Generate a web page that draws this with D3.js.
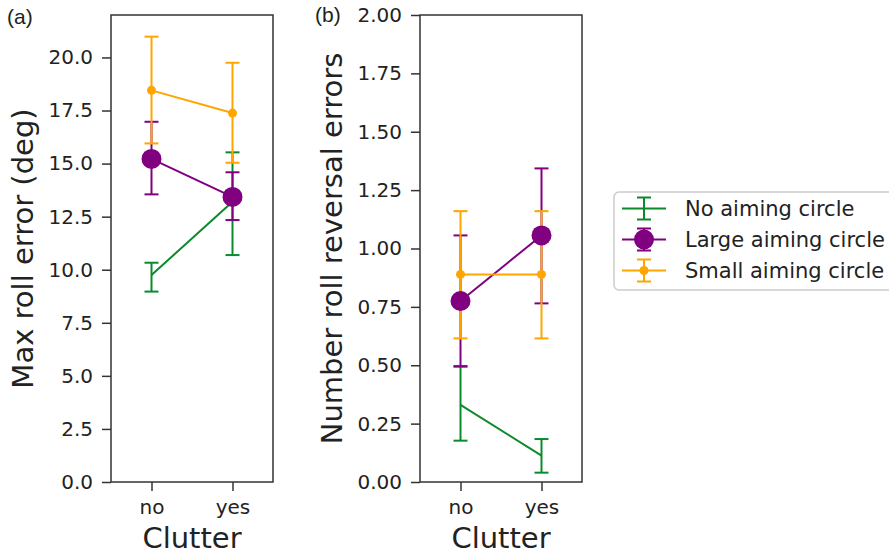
<!DOCTYPE html>
<html>
<head>
<meta charset="utf-8">
<script src="https://cdn.jsdelivr.net/npm/d3@7"></script>
<style>
  body { margin: 0; background: #fff; }
  svg { display: block; }
  text { font-family: "DejaVu Sans", sans-serif; fill: #222; }
</style>
</head>
<body>
<div id="chart"></div>
<script>
// categories and series
var clutter = ["no", "yes"]
var seriesNames = ["No aiming circle", "Large aiming circle", "Small aiming circle"]
var seriesColors = ["#0b8a2c", "#800080", "#ffa500"]
var markerSize = [0, 10, 4.5]

// (a) max roll error (deg): rows = series, cols = clutter
var maxRollMean = [[9.75, 13.2], [15.22, 13.43], [18.45, 17.38]]
var maxRollLow = [[8.97, 10.69], [13.55, 12.34], [15.95, 15.04]]
var maxRollHigh = [[10.33, 15.53], [16.97, 14.59], [20.98, 19.75]]
var maxRollTicks = [0, 2.5, 5, 7.5, 10, 12.5, 15, 17.5, 20]

// (b) number of roll reversal errors
var revMean = [[0.33, 0.113], [0.775, 1.056], [0.889, 0.889]]
var revLow = [[0.177, 0.04], [0.494, 0.765], [0.615, 0.615]]
var revHigh = [[0.497, 0.184], [1.056, 1.343], [1.16, 1.16]]
var revTicks = [0, 0.25, 0.5, 0.75, 1, 1.25, 1.5, 1.75, 2]

var svg = d3.select("#chart")
    .append("svg")
    .attr("width", 889)
    .attr("height", 558)

function drawPanel(p) {
    var x = d3.scalePoint()
        .domain(clutter)
        .range([p.left, p.right])
        .padding(0.5)
    var y = d3.scaleLinear()
        .domain(p.domain)
        .range([p.bottom, p.top])

    var g = svg.append("g")

    // axes
    g.append("g")
        .attr("transform", "translate(" + p.left + ",0)")
        .call(d3.axisLeft(y).tickValues(p.ticks).tickSize(9).tickPadding(9).tickFormat(d3.format(p.fmt)))
        .call(function(a) { a.select(".domain").remove() })
    g.append("g")
        .attr("transform", "translate(0," + p.bottom + ")")
        .call(d3.axisBottom(x).tickSize(9).tickPadding(9))
        .call(function(a) { a.select(".domain").remove() })
    g.selectAll(".tick line").attr("stroke", "#333").attr("stroke-width", 1.5)
    g.selectAll(".tick text")
        .style("font-family", "DejaVu Sans")
        .style("font-size", "20px")
        .attr("fill", "#222")

    // error bars first (drawn below markers)
    var capW = 7
    p.mean.forEach(function(row, s) {
        row.forEach(function(m, i) {
            var cx = x(clutter[i])
            var lo = y(p.low[s][i]), hi = y(p.high[s][i])
            g.append("line").attr("x1", cx).attr("x2", cx).attr("y1", lo).attr("y2", hi)
                .attr("stroke", seriesColors[s]).attr("stroke-width", 2)
            ;[lo, hi].forEach(function(yy) {
                g.append("line").attr("x1", cx - capW).attr("x2", cx + capW).attr("y1", yy).attr("y2", yy)
                    .attr("stroke", seriesColors[s]).attr("stroke-width", 2)
            })
        })
    })

    // lines and markers
    var line = d3.line()
        .x(function(d, i) { return x(clutter[i]) })
        .y(function(d) { return y(d) })
    p.mean.forEach(function(row, s) {
        g.append("path")
            .datum(row)
            .attr("fill", "none")
            .attr("stroke", seriesColors[s])
            .attr("stroke-width", 2)
            .attr("d", line)
        if (markerSize[s] > 0) {
            g.selectAll(null)
                .data(row)
                .enter()
                .append("circle")
                .attr("cx", function(d, i) { return x(clutter[i]) })
                .attr("cy", function(d) { return y(d) })
                .attr("r", markerSize[s])
                .attr("fill", seriesColors[s])
        }
    })

    // frame
    g.append("rect")
        .attr("x", p.left).attr("y", p.top)
        .attr("width", p.right - p.left).attr("height", p.bottom - p.top)
        .attr("fill", "none").attr("stroke", "#333").attr("stroke-width", 1.5)

    // labels
    g.append("text")
        .attr("transform", "translate(" + p.ylabelX + "," + ((p.top + p.bottom) / 2) + ") rotate(-90)")
        .attr("text-anchor", "middle")
        .style("font-size", "29px")
        .text(p.ylabel)
    g.append("text")
        .attr("x", (p.left + p.right) / 2)
        .attr("y", 548)
        .attr("text-anchor", "middle")
        .style("font-size", "29px")
        .text("Clutter")
    g.append("text")
        .attr("x", p.tagX)
        .attr("y", p.tagY)
        .style("font-family", "Liberation Sans, Arial, sans-serif")
        .style("font-size", "21px")
        .text(p.tag)
}

drawPanel({
    left: 111, right: 273, top: 15, bottom: 482,
    domain: [0, 22], ticks: maxRollTicks, fmt: ".1f",
    mean: maxRollMean, low: maxRollLow, high: maxRollHigh,
    ylabel: "Max roll error (deg)", ylabelX: 33, tag: "(a)", tagX: 7, tagY: 24
})
drawPanel({
    left: 420, right: 582, top: 15, bottom: 482,
    domain: [0, 2], ticks: revTicks, fmt: ".2f",
    mean: revMean, low: revLow, high: revHigh,
    ylabel: "Number roll reversal errors", ylabelX: 341.5, tag: "(b)", tagX: 315, tagY: 22
})

// legend
var legend = svg.append("g")
legend.append("rect")
    .attr("x", 614).attr("y", 192)
    .attr("width", 300).attr("height", 98)
    .attr("rx", 5)
    .attr("fill", "#fff")
    .attr("stroke", "#ccc")
    .attr("stroke-width", 1.5)
seriesNames.forEach(function(name, s) {
    var cy = 208.5 + s * 31
    var row = legend.append("g").attr("transform", "translate(0," + cy + ")")
    row.append("line").attr("x1", 622).attr("x2", 666).attr("y1", 0).attr("y2", 0)
        .attr("stroke", seriesColors[s]).attr("stroke-width", 2)
    row.append("line").attr("x1", 644).attr("x2", 644).attr("y1", -11).attr("y2", 11)
        .attr("stroke", seriesColors[s]).attr("stroke-width", 2)
    ;[-11, 11].forEach(function(yy) {
        row.append("line").attr("x1", 637).attr("x2", 651).attr("y1", yy).attr("y2", yy)
            .attr("stroke", seriesColors[s]).attr("stroke-width", 2)
    })
    if (markerSize[s] > 0) {
        row.append("circle").attr("cx", 644).attr("cy", 0).attr("r", markerSize[s])
            .attr("fill", seriesColors[s])
    }
    row.append("text")
        .attr("x", 685)
        .attr("y", 0)
        .attr("dy", "0.35em")
        .style("font-size", "21px")
        .text(name)
})
</script>
</body>
</html>
